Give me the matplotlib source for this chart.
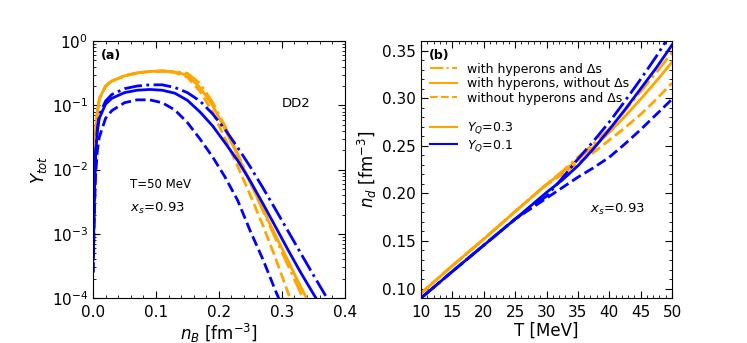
import matplotlib
matplotlib.use("Agg")
import matplotlib.pyplot as plt
from matplotlib.lines import Line2D
from matplotlib.ticker import MultipleLocator, AutoMinorLocator, LogLocator, NullFormatter

# ---- panel (a): Y_tot vs n_B at T=50 MeV ----
n_B = [0.0005, 0.002, 0.004, 0.007, 0.01, 0.02, 0.03, 0.05, 0.07, 0.09, 0.11, 0.13,
       0.15, 0.17, 0.19, 0.21, 0.23, 0.25, 0.27, 0.29, 0.31, 0.33, 0.35, 0.37, 0.39]

# Y_Q = 0.3 (orange)
y03_hyp_delta = [8.9e-4, 5.0e-3, 4.0e-2, 7.9e-2, 0.126, 0.20, 0.24, 0.288, 0.32, 0.338, 0.345, 0.335,
                 0.316, 0.219, 0.112, 0.047, 0.0174, 6.3e-3, 2.3e-3, 8.5e-4, 3.2e-4, 1.2e-4, 4.5e-5, 1.7e-5, 6e-6]
y03_hyp = [8.9e-4, 5.0e-3, 4.0e-2, 7.9e-2, 0.126, 0.20, 0.24, 0.288, 0.32, 0.337, 0.343, 0.331,
           0.295, 0.19, 0.10, 0.042, 0.0166, 6.3e-3, 2.4e-3, 9.5e-4, 3.8e-4, 1.5e-4, 6.3e-5, 2.5e-5, 1e-5]
y03_nuc = [8.9e-4, 5.0e-3, 4.0e-2, 7.9e-2, 0.126, 0.20, 0.24, 0.288, 0.32, 0.336, 0.340, 0.325,
           0.275, 0.166, 0.079, 0.030, 0.0112, 4.0e-3, 1.35e-3, 4.2e-4, 1.2e-4, 3.5e-5, 1e-5, 3e-6, 1e-6]

# Y_Q = 0.1 (blue)
y01_hyp_delta = [5.0e-4, 4.0e-3, 1.8e-2, 4.5e-2, 7.1e-2, 0.117, 0.148, 0.182, 0.20, 0.209, 0.209, 0.19,
                 0.158, 0.117, 0.074, 0.042, 0.022, 0.011, 5.2e-3, 2.4e-3, 1.1e-3, 5.0e-4, 2.3e-4, 1.07e-4, 5.0e-5]
y01_hyp = [4.0e-4, 3.2e-3, 1.6e-2, 4.0e-2, 6.3e-2, 0.105, 0.129, 0.158, 0.172, 0.177, 0.172, 0.155,
           0.120, 0.079, 0.048, 0.026, 0.0138, 6.6e-3, 2.95e-3, 1.29e-3, 5.6e-4, 2.5e-4, 1.17e-4, 5.6e-5, 2.5e-5]
y01_nuc = [2.5e-4, 1.6e-3, 7.9e-3, 2.0e-2, 3.2e-2, 6.3e-2, 8.3e-2, 0.11, 0.122, 0.122, 0.11, 0.085,
           0.054, 0.030, 0.0158, 7.6e-3, 3.3e-3, 1.1e-3, 4.0e-4, 1.3e-4, 4.5e-5, 1.5e-5, 5e-6, 2e-6, 1e-6]

# ---- panel (b): n_d vs T ----
T = [10, 15, 20, 25, 30, 32.5, 35, 37.5, 40, 42.5, 45, 47.5, 50]

nd03_hyp_delta = [0.095, 0.124, 0.152, 0.181, 0.2095, 0.223, 0.238, 0.252, 0.268, 0.287, 0.307, 0.327, 0.348]
nd03_hyp = [0.095, 0.124, 0.152, 0.181, 0.2095, 0.222, 0.236, 0.249, 0.264, 0.281, 0.299, 0.318, 0.338]
nd03_nuc = [0.095, 0.124, 0.152, 0.181, 0.209, 0.220, 0.232, 0.243, 0.256, 0.269, 0.283, 0.299, 0.316]

nd01_hyp_delta = [0.090, 0.118, 0.1455, 0.173, 0.197, 0.216, 0.236, 0.255, 0.275, 0.297, 0.320, 0.344, 0.370]
nd01_hyp = [0.090, 0.118, 0.1455, 0.173, 0.201, 0.214, 0.229, 0.247, 0.267, 0.288, 0.310, 0.332, 0.356]
nd01_nuc = [0.090, 0.118, 0.1455, 0.173, 0.195, 0.206, 0.217, 0.227, 0.238, 0.252, 0.267, 0.283, 0.299]

ORANGE = "orange"
BLUE = "blue"
LW = 2.0


def style_axes(ax):
    ax.tick_params(which="both", direction="in", top=True, right=True, labelsize=11)
    ax.tick_params(which="major", length=5)
    ax.tick_params(which="minor", length=2.5)
    ax.tick_params(axis="x", pad=5)


fig = plt.figure(figsize=(7.47, 3.43), dpi=100)
ax1 = fig.add_axes([0.1245, 0.131, 0.337, 0.749])
ax2 = fig.add_axes([0.5636, 0.131, 0.336, 0.749])

# panel (a)
ax1.plot(n_B, y03_hyp_delta, color=ORANGE, ls="-.", lw=LW)
ax1.plot(n_B, y03_hyp, color=ORANGE, ls="-", lw=LW)
ax1.plot(n_B, y03_nuc, color=ORANGE, ls="--", lw=LW)
ax1.plot(n_B, y01_hyp_delta, color=BLUE, ls="-.", lw=LW)
ax1.plot(n_B, y01_hyp, color=BLUE, ls="-", lw=LW)
ax1.plot(n_B, y01_nuc, color=BLUE, ls="--", lw=LW)
ax1.set_yscale("log")
ax1.set_xlim(0, 0.4)
ax1.set_ylim(1e-4, 1)
ax1.xaxis.set_major_locator(MultipleLocator(0.1))
ax1.xaxis.set_minor_locator(AutoMinorLocator(5))
ax1.yaxis.set_minor_locator(LogLocator(base=10, subs=range(2, 10), numticks=20))
ax1.yaxis.set_minor_formatter(NullFormatter())
style_axes(ax1)
ax1.set_xlabel(r"$n_B$ [fm$^{-3}$]", fontsize=12, labelpad=1)
ax1.set_ylabel(r"$Y_{tot}$", fontsize=12, labelpad=2)
ax1.text(0.03, 0.93, "(a)", transform=ax1.transAxes, fontsize=9, fontweight="bold")
ax1.text(0.75, 0.745, "DD2", transform=ax1.transAxes, fontsize=9.5)
ax1.text(0.147, 0.43, "T=50 MeV", transform=ax1.transAxes, fontsize=8.5)
ax1.text(0.147, 0.335, r"$x_s$=0.93", transform=ax1.transAxes, fontsize=9.5)

# panel (b)
ax2.plot(T, nd03_hyp_delta, color=ORANGE, ls="-.", lw=LW)
ax2.plot(T, nd03_hyp, color=ORANGE, ls="-", lw=LW)
ax2.plot(T, nd03_nuc, color=ORANGE, ls="--", lw=LW)
ax2.plot(T, nd01_hyp_delta, color=BLUE, ls="-.", lw=LW)
ax2.plot(T, nd01_hyp, color=BLUE, ls="-", lw=LW)
ax2.plot(T, nd01_nuc, color=BLUE, ls="--", lw=LW)
ax2.set_xlim(10, 50)
ax2.set_ylim(0.09, 0.36)
ax2.xaxis.set_major_locator(MultipleLocator(5))
ax2.xaxis.set_minor_locator(MultipleLocator(1))
ax2.yaxis.set_major_locator(MultipleLocator(0.05))
ax2.yaxis.set_minor_locator(MultipleLocator(0.01))
ax2.yaxis.set_major_formatter(plt.FormatStrFormatter("%.2f"))
style_axes(ax2)
ax2.set_xlabel("T [MeV]", fontsize=12, labelpad=1)
ax2.set_ylabel(r"$n_d$ [fm$^{-3}$]", fontsize=12, labelpad=2)
ax2.text(0.03, 0.93, "(b)", transform=ax2.transAxes, fontsize=9, fontweight="bold")
ax2.text(0.673, 0.33, r"$x_s$=0.93", transform=ax2.transAxes, fontsize=9.5)

handles = [
    Line2D([], [], color=ORANGE, ls="-.", lw=1.5),
    Line2D([], [], color=ORANGE, ls="-", lw=1.5),
    Line2D([], [], color=ORANGE, ls="--", lw=1.5),
    Line2D([], [], color="none"),
    Line2D([], [], color=ORANGE, ls="-", lw=1.5),
    Line2D([], [], color=BLUE, ls="-", lw=1.5),
]
labels = [
    "with hyperons and Δs",
    "with hyperons, without Δs",
    "without hyperons and Δs",
    "",
    r"$Y_Q$=0.3",
    r"$Y_Q$=0.1",
]
ax2.legend(handles, labels, loc="upper left", bbox_to_anchor=(0.0, 0.95), frameon=False,
           fontsize=9, handlelength=2.2, handletextpad=0.8, labelspacing=0.12, borderaxespad=0.3)

fig.savefig("out.png", dpi=100)
